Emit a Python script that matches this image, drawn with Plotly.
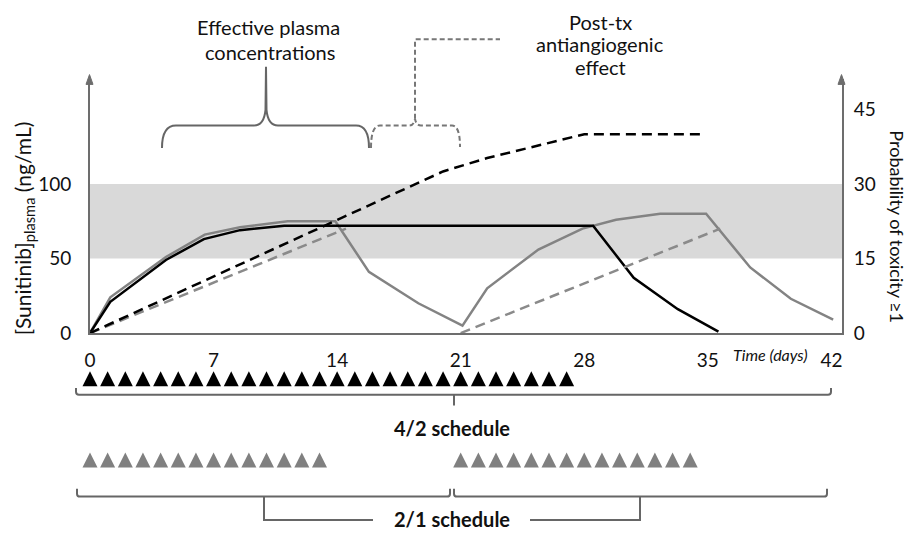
import plotly.graph_objects as go

# ---------------- data ----------------
# plasma concentration, 2/1 schedule (grey solid), ng/mL
conc21_days = [0, 1.15, 4.3, 6.5, 8.5, 11.2, 13.9, 15.8, 18.6, 21.1, 22.5, 25.4, 27.9, 29.8, 32.3, 34.9, 37.4, 39.7, 42.1]
conc21_vals = [0, 24, 51, 66, 71, 75, 75, 41, 20, 5, 30, 56, 70, 76, 80, 80, 44, 23, 9]
# plasma concentration, 4/2 schedule (black solid), ng/mL
conc42_days = [0, 1.15, 4.3, 6.45, 8.5, 11, 28.5, 30.8, 33.3, 35.6]
conc42_vals = [0, 21, 49, 63, 69, 72, 72, 37, 16, 1]
# probability of toxicity, 4/2 schedule (black dashed), right axis
tox42_days = [0, 20, 22.5, 25, 28, 34.7]
tox42_vals = [0, 32.5, 35.2, 37.4, 40, 40]
# probability of toxicity, 2/1 schedule (grey dashed), right axis
tox21_days = [0, 14.5, None, 21, 35.7]
tox21_vals = [0, 21, None, 0, 21]
# dosing days
dose42_days = list(range(0, 28))
dose21_days = list(range(0, 14)) + list(range(21, 35))
# axes
x_ticks = [0, 7, 14, 21, 28, 35, 42]
conc_ticks = [0, 50, 100]
tox_ticks = [0, 15, 30, 45]
effective_band = [50, 100]

# ---------------- layout helpers ----------------
OFF = 8                     # page body margin
W, H = 912 - OFF, 544 - 2 * OFF
L = 90 - OFF
R = W - (842 - OFF)
PW = W - L - R


def px(p):
    """screen x pixel -> paper x"""
    return (p - OFF - L) / PW


def py(p):
    """screen y pixel -> paper y"""
    return (H - (p - OFF)) / H


FONT = "Lato"
AX = "#6d6d6d"
TXT = "#111111"

fig = go.Figure()
fig.add_trace(go.Scatter(x=conc21_days, y=conc21_vals, mode="lines",
                         line=dict(color="#838383", width=2.5), xaxis="x", yaxis="y"))
fig.add_trace(go.Scatter(x=conc42_days, y=conc42_vals, mode="lines",
                         line=dict(color="#000000", width=2.5), xaxis="x", yaxis="y"))
fig.add_trace(go.Scatter(x=tox21_days, y=tox21_vals, mode="lines", connectgaps=False,
                         line=dict(color="#8a8a8a", width=2.5, dash="10px,6px"), xaxis="x", yaxis="y2"))
fig.add_trace(go.Scatter(x=tox42_days, y=tox42_vals, mode="lines",
                         line=dict(color="#000000", width=2.5, dash="10px,6px"), xaxis="x", yaxis="y2"))

BOT_TOP = 364.5             # screen y of top of schedule panel
BOT_BOT = 544 - OFF
Y3MAX = BOT_BOT - BOT_TOP
ROW42 = BOT_BOT - 379       # apex of black dose triangles
ROW21 = BOT_BOT - 462       # apex of grey dose triangles
fig.add_trace(go.Scatter(x=dose42_days, y=[ROW42] * len(dose42_days), mode="markers", cliponaxis=False,
                         marker=dict(symbol="arrow-up", size=15, color="#000000", line=dict(width=0)),
                         xaxis="x2", yaxis="y3"))
fig.add_trace(go.Scatter(x=dose21_days, y=[ROW21] * len(dose21_days), mode="markers", cliponaxis=False,
                         marker=dict(symbol="arrow-up", size=15, color="#808080", line=dict(width=0)),
                         xaxis="x2", yaxis="y3"))

shapes = []
# effective concentration band
shapes.append(dict(type="rect", xref="paper", yref="y", x0=0, x1=1,
                   y0=effective_band[0], y1=effective_band[1],
                   fillcolor="#d9d9d9", line=dict(width=0), layer="below"))

# axis arrowheads
for xa, tip in [(89.5, 76), (841.5, 76)]:
    shapes.append(dict(type="path", xref="paper", yref="paper",
                       path=f"M {px(xa)} {py(tip)} L {px(xa-3.5)} {py(tip+10)} L {px(xa+3.5)} {py(tip+10)} Z",
                       fillcolor=AX, line=dict(color=AX, width=1)))

# solid curly brace (effective plasma concentrations)
brace = (f"M {px(162)} {py(151)} Q {px(162)} {py(128)} {px(176)} {py(128)} "
         f"L {px(254)} {py(128)} Q {px(264)} {py(128)} {px(265.5)} {py(112)} "
         f"L {px(266)} {py(68)} L {px(266.5)} {py(112)} "
         f"Q {px(268)} {py(128)} {px(278)} {py(128)} "
         f"L {px(356)} {py(128)} Q {px(369)} {py(128)} {px(369)} {py(151)}")
shapes.append(dict(type="path", xref="paper", yref="paper", path=brace,
                   line=dict(color="#666666", width=2)))
# dashed brace (post-tx effect)
dbrace = (f"M {px(371)} {py(151)} Q {px(371)} {py(128)} {px(380)} {py(128)} "
          f"L {px(409)} {py(128)} Q {px(414)} {py(128)} {px(415)} {py(121)} "
          f"Q {px(416)} {py(128)} {px(421)} {py(128)} "
          f"L {px(452)} {py(128)} Q {px(460)} {py(128)} {px(460)} {py(150)}")
shapes.append(dict(type="path", xref="paper", yref="paper", path=dbrace,
                   line=dict(color="#777777", width=2, dash="5px,3px")))
shapes.append(dict(type="path", xref="paper", yref="paper",
                   path=f"M {px(415)} {py(121)} L {px(415)} {py(40)} L {px(500)} {py(40)}",
                   line=dict(color="#777777", width=2, dash="5px,3px")))

# 4/2 schedule bracket
BR = "#666666"
shapes.append(dict(type="path", xref="paper", yref="paper",
                   path=(f"M {px(76)} {py(396)} L {px(76)} {py(400)} Q {px(76)} {py(403)} {px(79)} {py(403)} "
                         f"L {px(828)} {py(403)} Q {px(831)} {py(403)} {px(831)} {py(400)} L {px(831)} {py(396)}"),
                   line=dict(color=BR, width=2)))
shapes.append(dict(type="line", xref="paper", yref="paper", x0=px(454), x1=px(454), y0=py(403), y1=py(414),
                   line=dict(color=BR, width=2)))
# 2/1 schedule brackets
shapes.append(dict(type="path", xref="paper", yref="paper",
                   path=(f"M {px(77)} {py(499)} L {px(77)} {py(504)} Q {px(77)} {py(507)} {px(80)} {py(507)} "
                         f"L {px(447)} {py(507)} Q {px(450)} {py(507)} {px(450)} {py(504)} L {px(450)} {py(499)}"),
                   line=dict(color=BR, width=2)))
shapes.append(dict(type="path", xref="paper", yref="paper",
                   path=(f"M {px(454)} {py(499)} L {px(454)} {py(504)} Q {px(454)} {py(507)} {px(457)} {py(507)} "
                         f"L {px(824)} {py(507)} Q {px(827)} {py(507)} {px(827)} {py(504)} L {px(827)} {py(499)}"),
                   line=dict(color=BR, width=2)))
shapes.append(dict(type="path", xref="paper", yref="paper",
                   path=f"M {px(264)} {py(507)} L {px(264)} {py(531)} L {px(373)} {py(531)}",
                   line=dict(color=BR, width=2)))
shapes.append(dict(type="path", xref="paper", yref="paper",
                   path=f"M {px(530)} {py(531)} L {px(640)} {py(531)} L {px(640)} {py(507)}",
                   line=dict(color=BR, width=2)))

ann = []


def text(x, y, s, size=20, bold=False, italic=False, angle=0, color=TXT):
    if bold:
        s = f"<b>{s}</b>"
    if italic:
        s = f"<i>{s}</i>"
    ann.append(dict(x=px(x), y=py(y), xref="paper", yref="paper", text=s, showarrow=False,
                    textangle=angle, xanchor="center", yanchor="middle",
                    font=dict(family=FONT, size=size, color=color)))


text(268, 27, "Effective plasma")
text(270, 53, "concentrations")
text(600, 22, "Post-tx")
text(600, 45, "antiangiogenic")
text(600, 68, "effect")
text(770, 362, "Time (days)", size=16, italic=True)
text(452, 437, "4/2 schedule", size=20, bold=True)
text(452, 530, "2/1 schedule", size=20, bold=True)
text(24, 233, "[Sunitinib]<sub>plasma</sub> (ng/mL)", size=21, angle=-90)
text(897, 231, "Probability of toxicity ≥1", size=18, angle=90)

fig.update_layout(
    width=W, height=H,
    margin=dict(l=L, r=R, t=0, b=0),
    paper_bgcolor="white", plot_bgcolor="rgba(0,0,0,0)",
    showlegend=False,
    shapes=shapes, annotations=ann,
    xaxis=dict(domain=[0, 1], range=[0, 42.6], anchor="y", tickvals=x_ticks,
               showline=True, linecolor=AX, linewidth=2, ticks="", showgrid=False, zeroline=False,
               tickfont=dict(family=FONT, size=19, color=TXT), ticklabelstandoff=9),
    yaxis=dict(domain=[py(340), py(81)], range=[0, 170], anchor="x", tickvals=conc_ticks,
               showline=True, linecolor=AX, linewidth=2, ticks="", showgrid=False, zeroline=False,
               tickfont=dict(family=FONT, size=19, color=TXT), ticklabelstandoff=13),
    yaxis2=dict(overlaying="y", side="right", range=[0, 51], anchor="x", tickvals=tox_ticks,
                showline=True, linecolor=AX, linewidth=2, ticks="", showgrid=False, zeroline=False,
                tickfont=dict(family=FONT, size=19, color=TXT), ticklabelstandoff=6),
    xaxis2=dict(domain=[0, 1], range=[0, 42.6], anchor="y3", visible=False),
    yaxis3=dict(domain=[0, py(BOT_TOP)], range=[0, Y3MAX], anchor="x2", visible=False),
)

fig.write_html("out.html")
